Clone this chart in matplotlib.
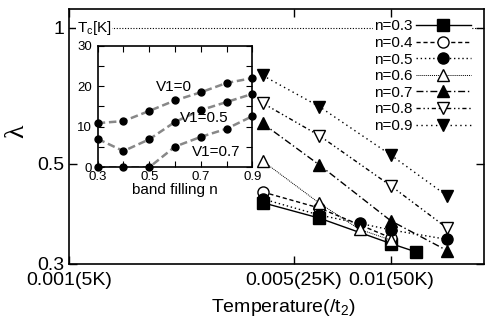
import numpy as np
import matplotlib
matplotlib.use("Agg")
import matplotlib.pyplot as plt
from matplotlib.ticker import FixedLocator, NullLocator, FixedFormatter, MultipleLocator

plt.rcParams['font.family'] = ['Liberation Sans', 'DejaVu Sans']
plt.rcParams['mathtext.default'] = 'regular'

# main panel data: lambda vs temperature for each band filling n
labels = ['n=0.3', 'n=0.4', 'n=0.5', 'n=0.6', 'n=0.7', 'n=0.8', 'n=0.9']
T03 = [0.004, 0.006, 0.01, 0.012]
L03 = [0.410, 0.379, 0.333, 0.319]
T04 = [0.004, 0.006, 0.01]
L04 = [0.433, 0.399, 0.343]
T05 = [0.004, 0.006, 0.008, 0.01, 0.015]
L05 = [0.418, 0.385, 0.369, 0.357, 0.340]
T06 = [0.004, 0.006, 0.008, 0.01]
L06 = [0.507, 0.409, 0.358, 0.339]
T07 = [0.004, 0.006, 0.01, 0.015]
L07 = [0.614, 0.497, 0.374, 0.321]
T08 = [0.004, 0.006, 0.01, 0.015]
L08 = [0.681, 0.577, 0.447, 0.360]
T09 = [0.004, 0.006, 0.01, 0.015]
L09 = [0.784, 0.669, 0.523, 0.424]

xticks = [0.001, 0.005, 0.01]
xticklabels = ['0.001(5K)', '0.005(25K)', '0.01(50K)']
yticks = [0.3, 0.5, 1]
yticklabels = ['0.3', '0.5', '1']

# inset data: Tc[K] vs band filling
nfill = [0.3, 0.4, 0.5, 0.6, 0.7, 0.8, 0.9]
tc_v0 = [10.9, 11.4, 13.9, 16.5, 18.5, 20.8, 22.0]
tc_v05 = [7.0, 4.0, 6.9, 11.2, 14.1, 16.1, 18.1]
tc_v07 = [0, 0, 0, 5.1, 7.5, 9.5, 12.6]

fig = plt.figure(figsize=(4.89, 3.2), dpi=100)
ax = fig.add_axes([0.1411, 0.175, 0.8487, 0.7969])

series = [
    (T03, L03, dict(marker='s', mfc='k', ls='-')),
    (T04, L04, dict(marker='o', mfc='w', ls=(0, (3, 2)))),
    (T05, L05, dict(marker='o', mfc='k', ls=(0, (1, 2)))),
    (T06, L06, dict(marker='^', mfc='w', ls=(0, (1, 1)), lw=0.7)),
    (T07, L07, dict(marker='^', mfc='k', ls=(0, (5, 2, 1, 2)))),
    (T08, L08, dict(marker='v', mfc='w', ls=(0, (3, 2, 1, 2, 1, 2)))),
    (T09, L09, dict(marker='v', mfc='k', ls=(0, (1, 2.5)))),
]
for (t, l, st), lab in zip(series, labels):
    kw = dict(color='k', mec='k', ms=8, lw=1.0, mew=1.0)
    kw.update(st)
    ax.plot(t, l, label=lab, **kw)

ax.axhline(1.0, color='k', ls=(0, (1, 1.5)), lw=0.8, zorder=1)
ax.text(0.019, 1.0, 'T$_c$[K]', transform=ax.get_yaxis_transform(),
        ha='left', va='center', fontsize=11,
        bbox=dict(facecolor='w', edgecolor='none', pad=0.5))

ax.set_xscale('log')
ax.set_yscale('log')
ax.set_xlim(0.001, 0.0195)
ax.set_ylim(0.3, 1.1)
ax.xaxis.set_major_locator(FixedLocator(xticks))
ax.xaxis.set_major_formatter(FixedFormatter(xticklabels))
ax.xaxis.set_minor_locator(NullLocator())
ax.yaxis.set_major_locator(FixedLocator(yticks))
ax.yaxis.set_major_formatter(FixedFormatter(yticklabels))
ax.yaxis.set_minor_locator(NullLocator())
ax.tick_params(direction='in', top=True, right=True, length=6, width=1.0,
               labelsize=14)
ax.tick_params(axis='x', pad=6)
ax.tick_params(axis='y', pad=3)
for s in ax.spines.values():
    s.set_linewidth(1.2)

ax.set_xlabel('Temperature(/t$_2$)', fontsize=14)
ax.xaxis.set_label_coords(0.516, -0.13)
ax.set_ylabel('λ', fontsize=20, family='Liberation Serif')
ax.yaxis.set_label_coords(-0.095, 0.52)

leg = ax.legend(loc='upper right', bbox_to_anchor=(0.99, 0.995),
                markerfirst=False, fontsize=11, handlelength=3.6,
                handletextpad=0.2, labelspacing=0.17, borderpad=0.1,
                frameon=True, fancybox=False)
leg.get_frame().set_facecolor('w')
leg.get_frame().set_edgecolor('none')
leg.get_frame().set_alpha(1)

# inset
ins = fig.add_axes([0.1998, 0.4772, 0.3162, 0.38])
for v in (tc_v0, tc_v05, tc_v07):
    ins.plot(nfill, v, color='#888888', ls=(0, (3, 1.5)), lw=1.8, zorder=2)
    ins.plot(nfill, v, 'o', color='k', ms=5, zorder=3, clip_on=False)
ins.set_xlim(0.3, 0.9)
ins.set_ylim(0, 30)
ins.xaxis.set_major_locator(FixedLocator([0.3, 0.5, 0.7, 0.9]))
ins.xaxis.set_minor_locator(MultipleLocator(0.1))
ins.yaxis.set_major_locator(MultipleLocator(10))
ins.yaxis.set_minor_locator(MultipleLocator(5))
ins.tick_params(which='both', direction='in', top=True, right=True,
                length=4, width=0.8, labelsize=9.5)
ins.tick_params(axis='x', pad=3)
ins.tick_params(axis='y', pad=4)
for s in ins.spines.values():
    s.set_linewidth(1.2)
ins.set_xlabel('band filling n', fontsize=11, labelpad=0)
ins.text(0.526, 19.7, 'V1=0', fontsize=11, ha='left', va='center')
ins.text(0.619, 12.1, 'V1=0.5', fontsize=11, ha='left', va='center')
ins.text(0.666, 3.75, 'V1=0.7', fontsize=11, ha='left', va='center')

fig.savefig('out.png', dpi=100)
